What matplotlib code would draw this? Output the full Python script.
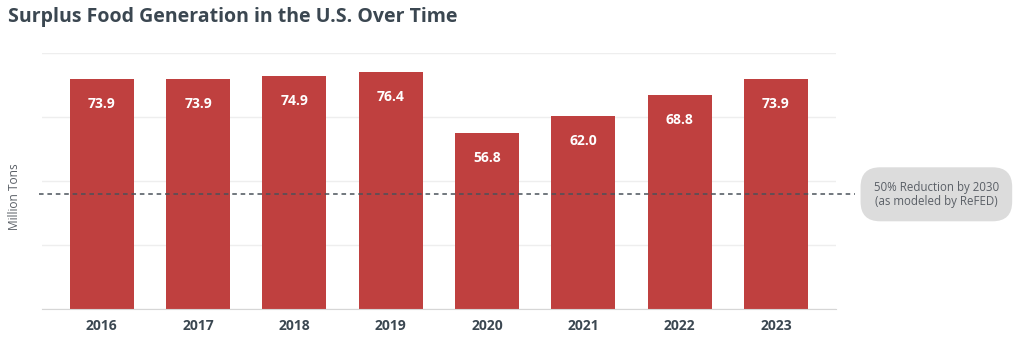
import numpy as np
import matplotlib
matplotlib.use("Agg")
import matplotlib.pyplot as plt

# surplus food, million tons
years = ["2016", "2017", "2018", "2019", "2020", "2021", "2022", "2023"]
surplus = [73.9, 73.9, 74.9, 76.4, 56.8, 62.0, 68.8, 73.9]
target_value = 36.95
target_label = "50% Reduction by 2030\n(as modeled by ReFED)"

BAR_COLOR = "#bf403f"
TEXT_DARK = "#3b4751"
TEXT_GREY = "#5a5f66"

plt.rcParams["font.family"] = ["Open Sans", "DejaVu Sans"]

fig = plt.figure(figsize=(10.24, 3.41), dpi=100)
ax = fig.add_axes([0.041, 0.093, 0.775, 0.752])

x = np.arange(len(years))
ax.bar(x, surplus, width=0.665, color=BAR_COLOR, zorder=2)
for xi, v in zip(x, surplus):
    ax.annotate(f"{v:.1f}", (xi, v), xytext=(0, -18), textcoords="offset points",
                ha="center", va="center", color="white", fontsize=10, fontweight="bold", zorder=3)

ymax = 82.4
ax.set_ylim(0, ymax)
ax.set_xlim(-0.62, 7.62)
ax.set_yticks(np.linspace(0, ymax, 5))
ax.set_yticklabels([])
ax.grid(axis="y", color="#eeeeee", linewidth=1, zorder=0)
ax.tick_params(axis="both", length=0)
ax.set_xticks(x)
ax.set_xticklabels(years, fontsize=10, fontweight="bold", color=TEXT_DARK)
ax.tick_params(axis="x", pad=7)
for side in ["top", "right", "left"]:
    ax.spines[side].set_visible(False)
ax.spines["bottom"].set_color("#d6d6d6")

ax.set_ylabel("Million Tons", fontsize=8.6, color=TEXT_GREY)
ax.yaxis.set_label_coords(-0.026, 0.44)

# target dashed line, running out to the label box
ax.plot([-0.004, 1.024], [target_value, target_value], transform=ax.get_yaxis_transform(),
        color="#4a525a", linestyle=(0, (3, 2.5)), linewidth=1.1, clip_on=False, zorder=4)
ax.annotate(target_label, xy=(1.127, target_value), xycoords=ax.get_yaxis_transform(),
            ha="center", va="center", fontsize=8.3, color=TEXT_GREY, linespacing=1.15,
            annotation_clip=False,
            bbox=dict(boxstyle="round,pad=1.15,rounding_size=1.7", fc="#dcdcdc", ec="none"))

fig.text(0.008, 0.95, "Surplus Food Generation in the U.S. Over Time", fontsize=14,
         fontweight="bold", color=TEXT_DARK, ha="left", va="center")

fig.savefig("out.png", dpi=100)
